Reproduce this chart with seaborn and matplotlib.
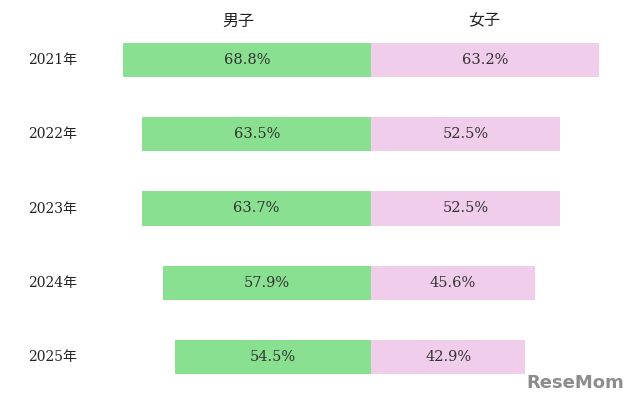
import matplotlib
matplotlib.use('Agg')
import matplotlib.pyplot as plt
import seaborn as sns
import pandas as pd

# Data
years = ['2021年', '2022年', '2023年', '2024年', '2025年']
boys = [68.8, 63.5, 63.7, 57.9, 54.5]
girls = [63.2, 52.5, 52.5, 45.6, 42.9]
headers = ['男子', '女子']

green = '#88e090'
pink = '#f0cdeb'
fam = ['DejaVu Serif', 'Noto Sans CJK JP']

df = pd.DataFrame({'year': years, 'boys': boys, 'girls': girls})
df['boys_neg'] = -df['boys']

sns.set_style('white')
plt.rcParams['font.family'] = fam

fig = plt.figure(figsize=(6.4, 4.04), dpi=100)
ax = fig.add_axes([0, 0, 1, 1])

# Boys to the left, girls to the right of a shared centre line
sns.barplot(data=df, x='boys_neg', y='year', orient='h', color=green,
            width=0.46, saturation=1, linewidth=0, ax=ax)
sns.barplot(data=df, x='girls', y='year', orient='h', color=pink,
            width=0.46, saturation=1, linewidth=0, ax=ax)

# Pixel scale: centre at 371 px, ~3.6 px per percent
ax.set_xlim(-371 / 3.6, (640 - 371) / 3.6)
ax.set_ylim(4.633, -0.808)
ax.axis('off')

for i, (b, g) in enumerate(zip(boys, girls)):
    ax.text(-b / 2, i, f'{b:.1f}%', ha='center', va='center',
            fontsize=10.5, color='#333333', family=fam)
    ax.text(g / 2, i, f'{g:.1f}%', ha='center', va='center',
            fontsize=10.5, color='#333333', family=fam)
    ax.text(28 / 640, 1 - (60 + i * 74.25) / 404, years[i], transform=ax.transAxes,
            ha='left', va='center', fontsize=10, color='#222222', family=fam)

ax.text(238 / 640, 1 - 21 / 404, headers[0], transform=ax.transAxes,
        ha='center', va='center', fontsize=11.5, color='#222222',
        family=['Noto Sans CJK JP'])
ax.text(484 / 640, 1 - 21 / 404, headers[1], transform=ax.transAxes,
        ha='center', va='center', fontsize=11.5, color='#222222',
        family=['Noto Sans CJK JP'])

# Watermark
ax.text(575 / 640, 1 - 383 / 404, 'ReseMom', transform=ax.transAxes,
        ha='center', va='center', fontsize=13, fontweight='bold',
        color='#8c8c8c', family=['DejaVu Sans'])

fig.savefig('out.png', dpi=100)
